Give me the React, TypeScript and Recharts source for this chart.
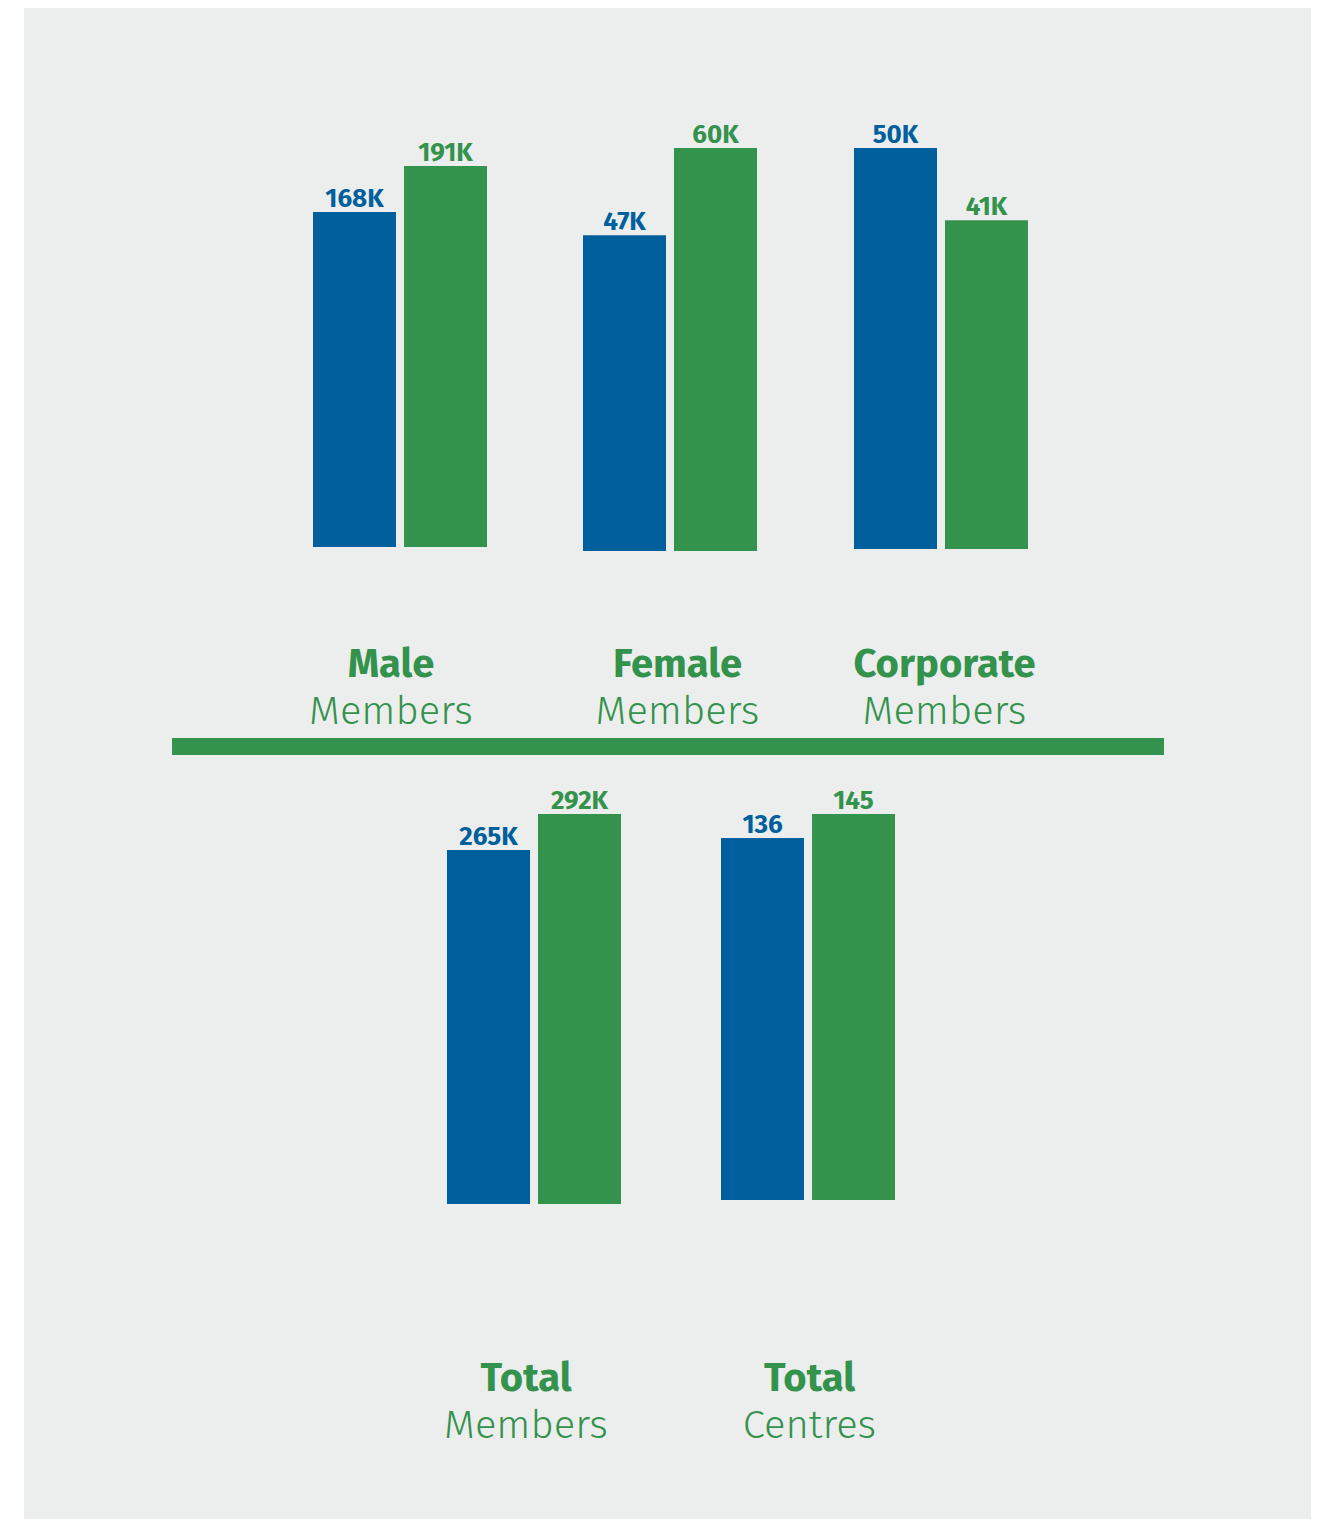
import { BarChart, Bar, XAxis, YAxis, LabelList } from 'recharts';

/* ───────── Theme ───────── */

const BLUE = '#005f9d';
const GREEN = '#33924c';
const PANEL = '#eceded';
const FONT = "'Fira Sans', 'Noto Sans', sans-serif";

/* ───────── Data ───────── */

// top row: membership by type (previous year blue, current year green)
const TOP_TITLES = ['Male', 'Female', 'Corporate'];
const TOP_SUBTITLES = ['Members', 'Members', 'Members'];
const TOP_PREVIOUS = [168000, 47000, 50000];
const TOP_CURRENT = [191000, 60000, 41000];

// bottom row: totals
const BOTTOM_TITLES = ['Total', 'Total'];
const BOTTOM_SUBTITLES = ['Members', 'Centres'];
const BOTTOM_PREVIOUS = [265000, 136];
const BOTTOM_CURRENT = [292000, 145];

/* ───────── Layout (page pixels) ───────── */

type GroupLayout = { cx: number; barTop: number; base: number; labelDx: number };

const TOP_LAYOUT: GroupLayout[] = [
  { cx: 400, barTop: 166, base: 547, labelDx: -9 },
  { cx: 669.5, barTop: 148, base: 551, labelDx: 7.5 },
  { cx: 940.5, barTop: 148, base: 549, labelDx: 3.5 },
];
const TOP_TITLE_Y = 677;

const BOTTOM_LAYOUT: GroupLayout[] = [
  { cx: 534, barTop: 814, base: 1204, labelDx: -8 },
  { cx: 808, barTop: 814, base: 1200, labelDx: 1.5 },
];
const BOTTOM_TITLE_Y = 1391;

const SUBTITLE_GAP = 47;
const CHART_W = 280;
const HEAD_ROOM = 40;

const fmt = (v: number) => (v >= 1000 ? `${Math.round(v / 1000)}K` : `${v}`);

/* ───────── Two-line category tick ───────── */

function TitleTick({ x, y, payload, dx, dy, subtitle }: any) {
  return (
    <g transform={`translate(${x + dx},${y + dy})`}>
      <text textAnchor="middle" fill={GREEN} fontFamily={FONT} fontWeight={700} fontSize={40}>
        {payload.value}
      </text>
      <text y={SUBTITLE_GAP} textAnchor="middle" fill={GREEN} fontFamily={FONT} fontWeight={300} fontSize={40}>
        {subtitle}
      </text>
    </g>
  );
}

/* ───────── One pair of bars ───────── */

interface GroupProps {
  title: string;
  subtitle: string;
  previous: number;
  current: number;
  layout: GroupLayout;
  titleY: number;
}

function GroupChart({ title, subtitle, previous, current, layout, titleY }: GroupProps) {
  const data = [{ name: title, previous, current }];
  const plotH = layout.base - layout.barTop;
  const axisH = titleY - layout.base + 70;
  const labelStyle = { fontFamily: FONT, fontWeight: 700, fontSize: 26 };

  return (
    <div style={{ position: 'absolute', left: layout.cx - CHART_W / 2, top: layout.barTop - HEAD_ROOM }}>
      <BarChart
        width={CHART_W}
        height={HEAD_ROOM + plotH + axisH}
        data={data}
        margin={{ top: HEAD_ROOM, right: 0, bottom: 0, left: 0 }}
        barSize={83}
        barGap={8}
      >
        <XAxis
          dataKey="name"
          axisLine={false}
          tickLine={false}
          tickSize={0}
          tickMargin={0}
          height={axisH}
          interval={0}
          tick={(p: any) => (
            <TitleTick {...p} dx={layout.labelDx} dy={titleY - layout.base} subtitle={subtitle} />
          )}
        />
        <YAxis hide domain={[0, Math.max(previous, current)]} allowDataOverflow />
        <Bar dataKey="previous" fill={BLUE} isAnimationActive={false}>
          <LabelList dataKey="previous" position="top" offset={5} formatter={fmt} fill={BLUE} {...labelStyle} />
        </Bar>
        <Bar dataKey="current" fill={GREEN} isAnimationActive={false}>
          <LabelList dataKey="current" position="top" offset={5} formatter={fmt} fill={GREEN} {...labelStyle} />
        </Bar>
      </BarChart>
    </div>
  );
}

/* ───────── Page ───────── */

export default function App() {
  return (
    <div style={{ position: 'relative', width: 1326, height: 1519, margin: '-8px 0 0 -8px', fontFamily: FONT }}>
      <div style={{ position: 'absolute', left: 24, top: 8, width: 1287, height: 1519, background: PANEL }} />
      <div style={{ position: 'absolute', left: 172, top: 738, width: 992, height: 17, background: GREEN }} />
      {TOP_TITLES.map((t, i) => (
        <GroupChart
          key={`top-${i}`}
          title={t}
          subtitle={TOP_SUBTITLES[i]}
          previous={TOP_PREVIOUS[i]}
          current={TOP_CURRENT[i]}
          layout={TOP_LAYOUT[i]}
          titleY={TOP_TITLE_Y}
        />
      ))}
      {BOTTOM_TITLES.map((t, i) => (
        <GroupChart
          key={`bottom-${i}`}
          title={t}
          subtitle={BOTTOM_SUBTITLES[i]}
          previous={BOTTOM_PREVIOUS[i]}
          current={BOTTOM_CURRENT[i]}
          layout={BOTTOM_LAYOUT[i]}
          titleY={BOTTOM_TITLE_Y}
        />
      ))}
    </div>
  );
}
